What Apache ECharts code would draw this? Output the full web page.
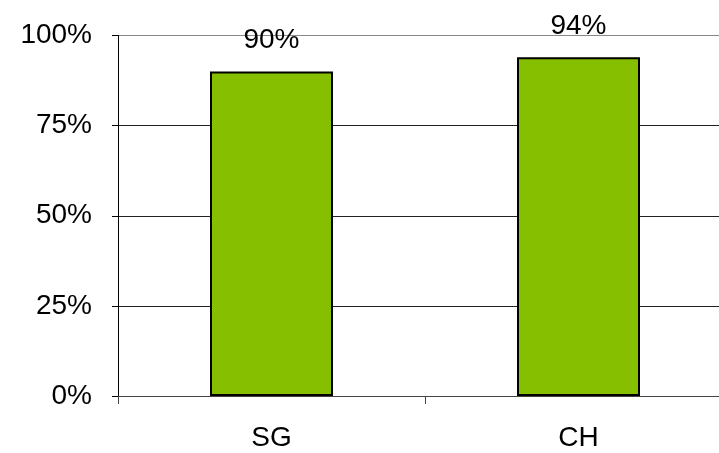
<!DOCTYPE html>
<html>
<head>
<meta charset="utf-8">
<style>
  html, body { margin: 0; padding: 0; background: #ffffff; overflow: hidden; }
  #chart { width: 732px; height: 453px; }
</style>
<script src="https://cdn.jsdelivr.net/npm/echarts@6/dist/echarts.min.js"></script>
</head>
<body>
<div id="chart"></div>
<script>
// Share of respondents per region
const categories = ['SG', 'CH'];
const shares = [90, 94];
const yTicks = [0, 25, 50, 75, 100];

const FONT = '"Liberation Sans", Arial, sans-serif';

const chart = echarts.init(document.getElementById('chart'), null, { renderer: 'canvas' });
chart.setOption({
  animation: false,
  backgroundColor: '#ffffff',
  grid: { left: 118, top: 35.5, right: 0, bottom: 57, containLabel: false },
  xAxis: {
    type: 'category',
    data: categories,
    boundaryGap: true,
    axisLine: { show: true, lineStyle: { color: '#444', width: 1 } },
    axisTick: { show: true, length: 8, lineStyle: { color: '#444' } },
    axisLabel: { color: '#000', fontFamily: FONT, fontSize: 28, margin: 28 }
  },
  yAxis: {
    type: 'value',
    min: yTicks[0],
    max: yTicks[yTicks.length - 1],
    interval: 25,
    axisLine: { show: true, lineStyle: { color: '#000', width: 1 } },
    axisTick: { show: true, length: 6, lineStyle: { color: '#000' } },
    axisLabel: { color: '#000', fontFamily: FONT, fontSize: 28, margin: 26, formatter: '{value}%' },
    splitLine: { show: true, lineStyle: { color: ['#444', '#222', '#222', '#222', '#888'], width: 1 } }
  },
  series: [{
    type: 'bar',
    data: shares,
    barWidth: 123,
    barCategoryGap: '60%',
    itemStyle: { color: '#86BF00', borderColor: '#000', borderWidth: 2 },
    label: {
      show: true,
      position: 'top',
      distance: 17,
      color: '#000',
      fontFamily: FONT,
      fontSize: 28,
      formatter: '{c}%'
    }
  }]
});
</script>
</body>
</html>
